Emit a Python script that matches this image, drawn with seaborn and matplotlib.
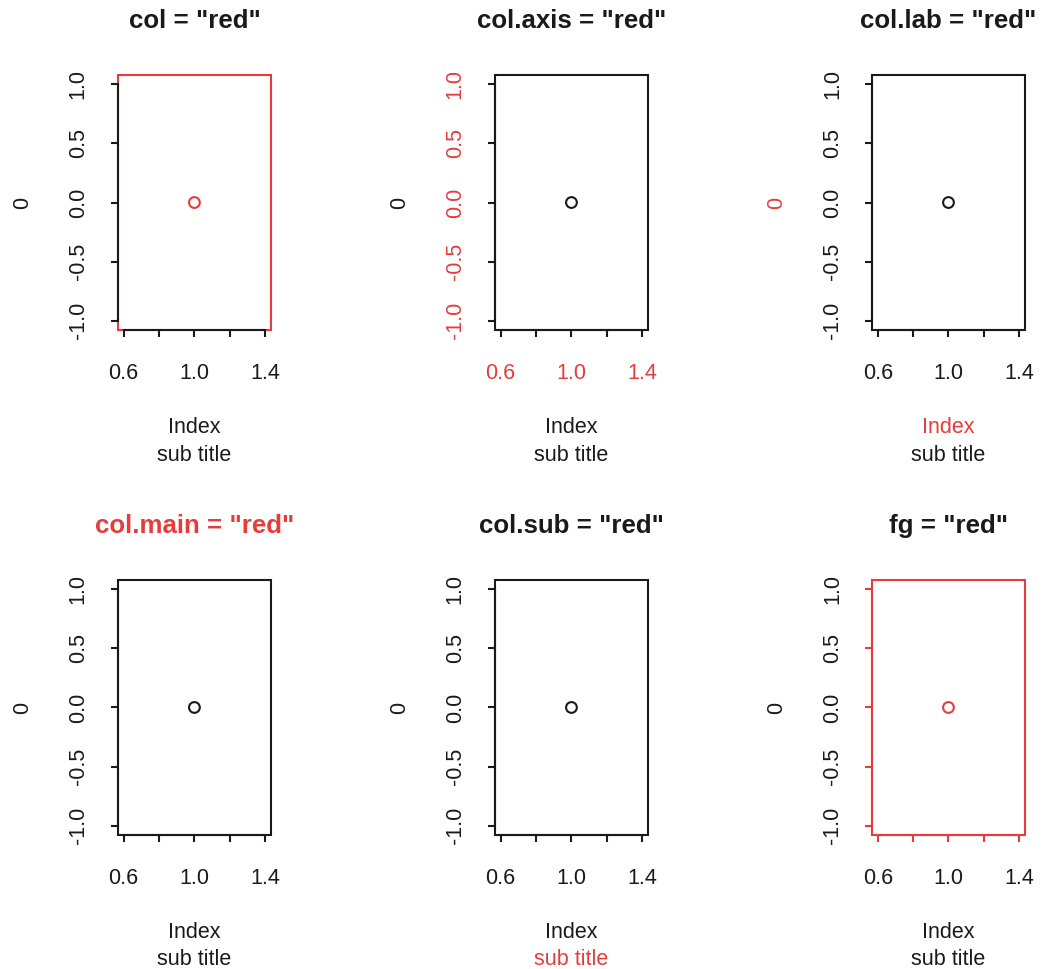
import matplotlib
matplotlib.use("Agg")
import matplotlib.pyplot as plt
from matplotlib.patches import Rectangle
import pandas as pd
import seaborn as sns

# Data: a single point plotted in each panel
index_vals = [1]
point_vals = [0]
panel_titles = ['col = "red"', 'col.axis = "red"', 'col.lab = "red"',
                'col.main = "red"', 'col.sub = "red"', 'fg = "red"']
# which graphical element is coloured red in each panel
red_parts = [{"box", "point"}, {"ticklabels"}, {"labels"},
             {"title"}, {"sub"}, {"box", "point", "axis"}]
x_ticks = [0.6, 0.8, 1.0, 1.2, 1.4]
x_ticklabels = ["0.6", "", "1.0", "", "1.4"]
y_ticks = [-1.0, -0.5, 0.0, 0.5, 1.0]
y_ticklabels = ["-1.0", "-0.5", "0.0", "0.5", "1.0"]

RED = "#e63c3c"
BLACK = "#1a1a1a"

sns.set_theme(style="white")
plt.rcParams["font.family"] = ["Liberation Sans", "DejaVu Sans"]

df = pd.DataFrame({"Index": index_vals, "value": point_vals})

fig = plt.figure(figsize=(10.47, 9.69), dpi=100)
fig.patch.set_facecolor("white")

lefts = [0.1127, 0.4728, 0.8329]
bottoms = [0.6594, 0.1383]
w, h = 0.146, 0.2632
lw = 1.5
fs = 15.5

for i, title in enumerate(panel_titles):
    r, c = divmod(i, 3)
    parts = red_parts[i]
    ax = fig.add_axes([lefts[c], bottoms[r], w, h])
    ax.set_facecolor("white")

    pc = RED if "point" in parts else BLACK
    sns.scatterplot(data=df, x="Index", y="value", ax=ax, s=60,
                    facecolors="none", edgecolor=pc, linewidth=1.5,
                    marker="o", zorder=3)
    ax.set_xlim(0.568, 1.432)
    ax.set_ylim(-1.08, 1.08)

    box_c = RED if "box" in parts else BLACK
    axis_c = RED if "axis" in parts else BLACK
    tl_c = RED if "ticklabels" in parts else BLACK
    lab_c = RED if "labels" in parts else BLACK
    title_c = RED if "title" in parts else BLACK
    sub_c = RED if "sub" in parts else BLACK

    for s in ["top", "right"]:
        ax.spines[s].set_visible(False)
    ax.add_patch(Rectangle((0, 0), 1, 1, transform=ax.transAxes, fill=False,
                           ec=box_c, lw=lw, clip_on=False, zorder=4))
    ax.spines["left"].set_bounds(-1.0, 1.0)
    ax.spines["bottom"].set_bounds(0.6, 1.4)
    for s in ["left", "bottom"]:
        ax.spines[s].set_color(axis_c)
        ax.spines[s].set_linewidth(lw)
        ax.spines[s].set_zorder(5)

    ax.set_xticks(x_ticks)
    ax.set_xticklabels(x_ticklabels)
    ax.set_yticks(y_ticks)
    ax.set_yticklabels(y_ticklabels)
    ax.tick_params(axis="both", direction="out", length=5, width=lw,
                   color=axis_c, labelcolor=tl_c, labelsize=fs,
                   bottom=True, left=True)
    ax.tick_params(axis="x", pad=19)
    ax.tick_params(axis="y", pad=16, labelrotation=90)
    for lab in ax.get_yticklabels():
        lab.set_va("center")

    ax.set_xlabel("")
    ax.set_ylabel("0", fontsize=fs, color=lab_c, rotation=90,
                  ha="center", va="center")
    ax.yaxis.set_label_coords(-0.623, 0.5)
    ax.text(0.5, -0.384, "Index", transform=ax.transAxes, ha="center",
            va="center", fontsize=fs, color=lab_c)
    ax.text(0.5, -0.49, "sub title", transform=ax.transAxes, ha="center",
            va="center", fontsize=fs, color=sub_c)
    ax.set_title(title, y=1.178, va="center", fontsize=18.6,
                 fontweight="bold", color=title_c)

fig.savefig("out.png", dpi=100, facecolor="white")
